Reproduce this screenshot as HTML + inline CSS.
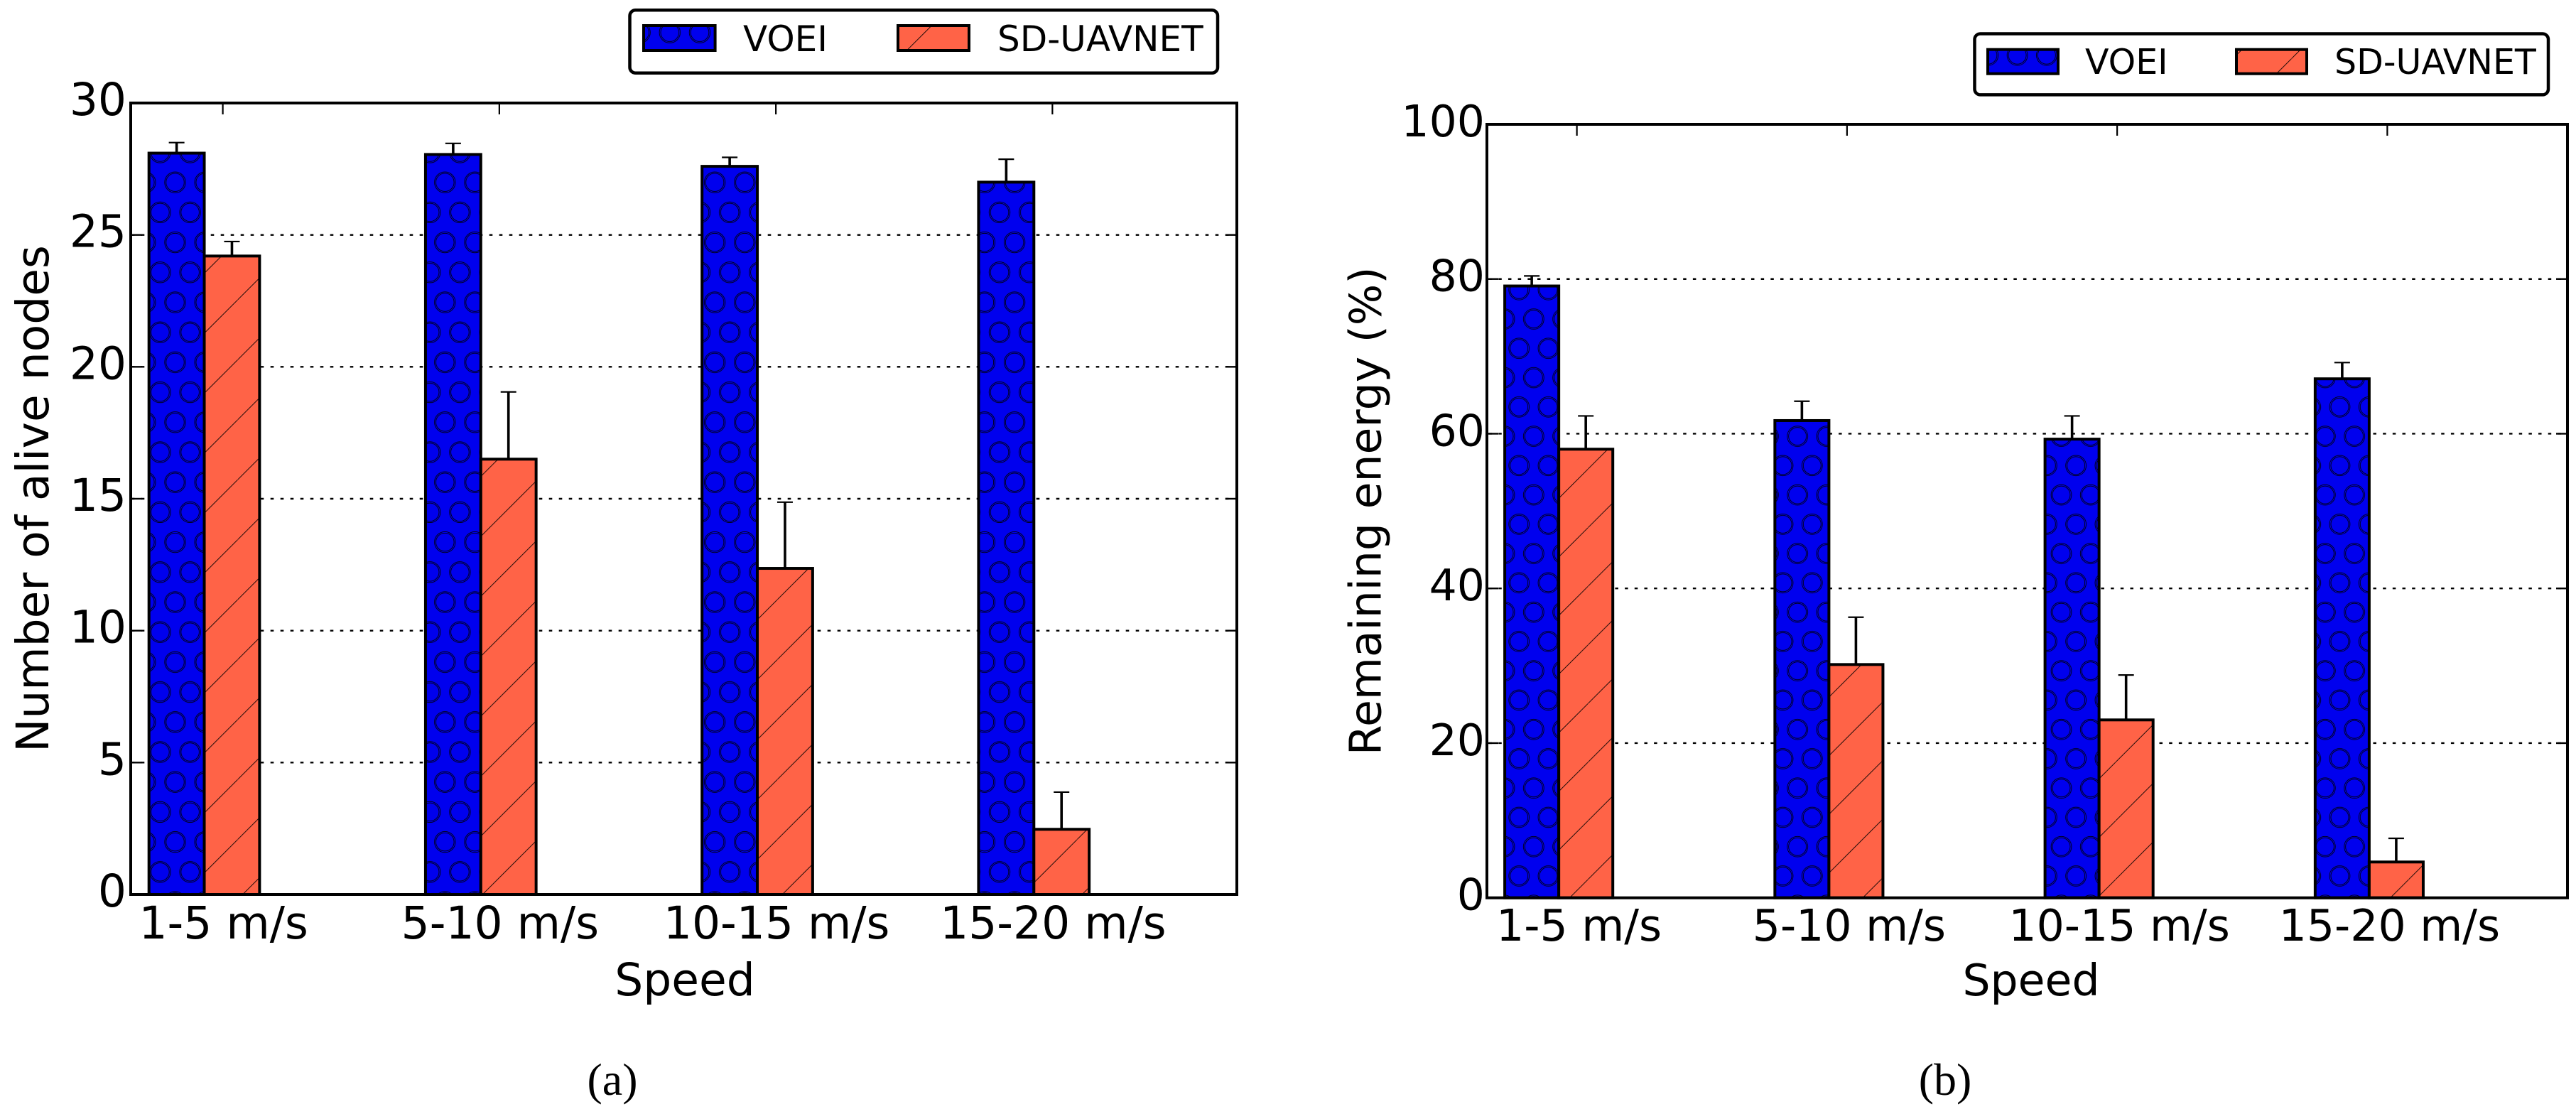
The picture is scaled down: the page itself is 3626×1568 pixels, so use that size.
<!DOCTYPE html>
<html lang="en">
<head>
<meta charset="utf-8">
<title>VOEI vs SD-UAVNET</title>
<style>
  html, body { margin: 0; padding: 0; background: #fff; }
  body { width: 3626px; height: 1568px; overflow: hidden; }
  svg { display: block; }
  text { font-family: "DejaVu Sans", "Liberation Sans", sans-serif; fill: #000; }
  .caption { font-family: "Liberation Serif", serif; }
</style>
</head>
<body>
<svg id="figure" xmlns="http://www.w3.org/2000/svg" width="3626" height="1568" viewBox="0 0 3626 1568">
  <defs>
    <pattern id="circles-a" patternUnits="userSpaceOnUse" x="225.4" y="235.6" width="42.2" height="84.4">
      <rect width="42.2" height="84.4" fill="#0000ee"/>
      <g fill="none" stroke="#000" stroke-width="0.85">
        <circle cx="21.1" cy="21.1" r="14.7"/><circle cx="21.1" cy="21.1" r="12.8"/>
        <circle cx="0" cy="63.3" r="14.7"/><circle cx="0" cy="63.3" r="12.8"/>
        <circle cx="42.2" cy="63.3" r="14.7"/><circle cx="42.2" cy="63.3" r="12.8"/>
      </g>
    </pattern>
    <pattern id="circles-b" patternUnits="userSpaceOnUse" x="2138.2" y="428.4" width="41.26" height="82.52">
      <rect width="41.26" height="82.52" fill="#0000ee"/>
      <g fill="none" stroke="#000" stroke-width="0.85">
        <circle cx="20.63" cy="20.63" r="14.4"/><circle cx="20.63" cy="20.63" r="12.5"/>
        <circle cx="0" cy="61.89" r="14.4"/><circle cx="0" cy="61.89" r="12.5"/>
        <circle cx="41.26" cy="61.89" r="14.4"/><circle cx="41.26" cy="61.89" r="12.5"/>
      </g>
    </pattern>
    <pattern id="slash-a" patternUnits="userSpaceOnUse" x="81.4" y="0" width="84.4" height="84.4">
      <rect width="84.4" height="84.4" fill="#ff6347"/>
      <line x1="-2" y1="86.4" x2="86.4" y2="-2" stroke="#000" stroke-width="0.85"/>
    </pattern>
    <pattern id="slash-b" patternUnits="userSpaceOnUse" x="7.3" y="0" width="82.52" height="82.52">
      <rect width="82.52" height="82.52" fill="#ff6347"/>
      <line x1="-2" y1="84.52" x2="84.52" y2="-2" stroke="#000" stroke-width="0.85"/>
    </pattern>
  </defs>

  <g id="plot-a"></g>
  <g id="plot-b"></g>

  <g>
    <rect x="886.5" y="14.3" width="827.5" height="88.4" rx="8" ry="8" fill="#fff" stroke="#000" stroke-width="4.5"/>
    <rect x="906" y="36" width="100.6" height="35" fill="url(#circles-a)" stroke="#000" stroke-width="4"/>
    <text x="1046" y="72" font-size="50">VOEI</text>
    <rect x="1264" y="36" width="100" height="35" fill="url(#slash-a)" stroke="#000" stroke-width="4"/>
    <text x="1404" y="72" font-size="50">SD-UAVNET</text>
  </g>

  <g>
    <rect x="2779.5" y="47.5" width="807.5" height="85.9" rx="8" ry="8" fill="#fff" stroke="#000" stroke-width="4.5"/>
    <rect x="2798" y="69.7" width="99" height="34" fill="url(#circles-b)" stroke="#000" stroke-width="4"/>
    <text x="2935" y="104" font-size="49">VOEI</text>
    <rect x="3148" y="69.7" width="99" height="34" fill="url(#slash-b)" stroke="#000" stroke-width="4"/>
    <text x="3286" y="104" font-size="49">SD-UAVNET</text>
  </g>

  <text class="caption" x="862" y="1541" font-size="64" text-anchor="middle">(a)</text>
  <text class="caption" x="2738" y="1541" font-size="64" text-anchor="middle">(b)</text>
</svg>

<script>
// Chart data
const categories = ['1-5 m/s', '5-10 m/s', '10-15 m/s', '15-20 m/s'];

const aliveTicks = [0, 5, 10, 15, 20, 25, 30];
const aliveVoei = [28.1, 28.05, 27.6, 27.0];
const aliveVoeiErr = [0.4, 0.42, 0.34, 0.87];
const aliveSd = [24.2, 16.5, 12.36, 2.47];
const aliveSdErr = [0.55, 2.55, 2.51, 1.41];

const energyTicks = [0, 20, 40, 60, 80, 100];
const energyVoei = [79.1, 61.7, 59.3, 67.1];
const energyVoeiErr = [1.3, 2.5, 3.0, 2.1];
const energySd = [58, 30.16, 23, 4.63];
const energySdErr = [4.3, 6.12, 5.8, 3.06];

const NS = 'http://www.w3.org/2000/svg';

function make(parent, tag, attrs, content) {
  const el = document.createElementNS(NS, tag);
  for (const k in attrs) el.setAttribute(k, attrs[k]);
  if (content !== undefined) el.textContent = content;
  parent.appendChild(el);
  return el;
}

function drawChart(opts) {
  const root = document.getElementById(opts.id);
  const L = opts.left, R = opts.right, T = opts.top, B = opts.bottom;
  const xMin = -0.066, xMax = 3.934, barWidth = 0.2, tickOffset = 0.267;
  const x = v => L + (v - xMin) * (R - L) / (xMax - xMin);
  const y = v => B - v * (B - T) / opts.yMax;

  // grid lines and tick marks sit behind the bars
  opts.yTicks.forEach(t => {
    if (t !== 0 && t !== opts.yMax) {
      const grid = make(root, 'line', { x1: L + opts.dashShift, x2: R, y1: y(t), y2: y(t), stroke: '#000', 'stroke-width': 2.4, 'stroke-dasharray': opts.dash });
      
      
      const lt = make(root, 'line', { x1: L, x2: L + 16, y1: y(t), y2: y(t), stroke: '#000', 'stroke-width': 2.4 });
      
      
      const rt = make(root, 'line', { x1: R - 16, x2: R, y1: y(t), y2: y(t), stroke: '#000', 'stroke-width': 2.4 });
      
      
    }
    const lab = make(root, 'text', { x: L - opts.yLabelGap, y: y(t) + 17, 'font-size': opts.tickFont, 'text-anchor': 'end' }, String(t));
    
    
  });

  categories.forEach((c, i) => {
    const tx = x(i + tickOffset);
    const top = make(root, 'line', { x1: tx, x2: tx, y1: T, y2: T + 16, stroke: '#000', 'stroke-width': 2.2 });
    
    
    const bot = make(root, 'line', { x1: tx, x2: tx, y1: B - 16, y2: B, stroke: '#000', 'stroke-width': 2.2 });
    
    
    const lab = make(root, 'text', { x: tx + opts.xLabelShift, y: opts.xLabelBase, 'font-size': opts.tickFont, 'text-anchor': 'middle' }, c);
    
    
  });

  // bars
  categories.forEach((c, i) => {
    const bv = make(root, 'rect', { x: x(i), y: y(opts.voei[i]), width: x(i + barWidth) - x(i), height: y(0) - y(opts.voei[i]), fill: 'url(#' + opts.circles + ')', stroke: '#000', 'stroke-width': 4 });
    
    
  });
  categories.forEach((c, i) => {
    const bs = make(root, 'rect', { x: x(i + barWidth), y: y(opts.sd[i]), width: x(i + 2 * barWidth) - x(i + barWidth), height: y(0) - y(opts.sd[i]), fill: 'url(#' + opts.slash + ')', stroke: '#000', 'stroke-width': 4 });
    
    
  });

  // error bars
  function errorBar(cx, value, err) {
    const stem = make(root, 'line', { x1: cx, x2: cx, y1: y(value), y2: y(value + err), stroke: '#000', 'stroke-width': 3.6 });
    
    
    const cap = make(root, 'line', { x1: cx - 11, x2: cx + 11, y1: y(value + err), y2: y(value + err), stroke: '#000', 'stroke-width': 2.2 });
    
    
  }
  categories.forEach((c, i) => {
    errorBar(x(i + barWidth / 2), opts.voei[i], opts.voeiErr[i]);
    errorBar(x(i + barWidth * 1.5), opts.sd[i], opts.sdErr[i]);
  });

  // frame
  const frame = make(root, 'rect', { x: L, y: T, width: R - L, height: B - T, fill: 'none', stroke: '#000', 'stroke-width': 4 });
  
  

  // axis titles
  const xt = make(root, 'text', { x: opts.xTitleX, y: opts.xTitleY, 'font-size': opts.tickFont, 'text-anchor': 'middle' }, 'Speed');
  
  
  const cy = (T + B) / 2;
  const yt = make(root, 'text', { x: 0, y: 0, 'font-size': opts.tickFont, 'text-anchor': 'middle', transform: 'translate(' + opts.yTitleX + ' ' + cy + ') rotate(-90)' }, opts.yTitle);
  
  
}

drawChart({
  id: 'plot-a', left: 184, right: 1741, top: 145, bottom: 1259, yMax: 30,
  yTicks: aliveTicks, voei: aliveVoei, voeiErr: aliveVoeiErr, sd: aliveSd, sdErr: aliveSdErr,
  circles: 'circles-a', slash: 'slash-a', dash: '4.6 9.4', dashShift: 0.7,
  tickFont: 63, yLabelGap: 6, xLabelShift: 1, xLabelBase: 1321,
  xTitleX: 964, xTitleY: 1401, yTitleX: 68, yTitle: 'Number of alive nodes'
});

drawChart({
  id: 'plot-b', left: 2093, right: 3614, top: 175, bottom: 1263.7, yMax: 100,
  yTicks: energyTicks, voei: energyVoei, voeiErr: energyVoeiErr, sd: energySd, sdErr: energySdErr,
  circles: 'circles-b', slash: 'slash-b', dash: '4.5 9.18', dashShift: 2.6,
  tickFont: 61.6, yLabelGap: 3, xLabelShift: 3, xLabelBase: 1324,
  xTitleX: 2859, xTitleY: 1401, yTitleX: 1943.5, yTitle: 'Remaining energy (%)'
});
</script>
</body>
</html>
